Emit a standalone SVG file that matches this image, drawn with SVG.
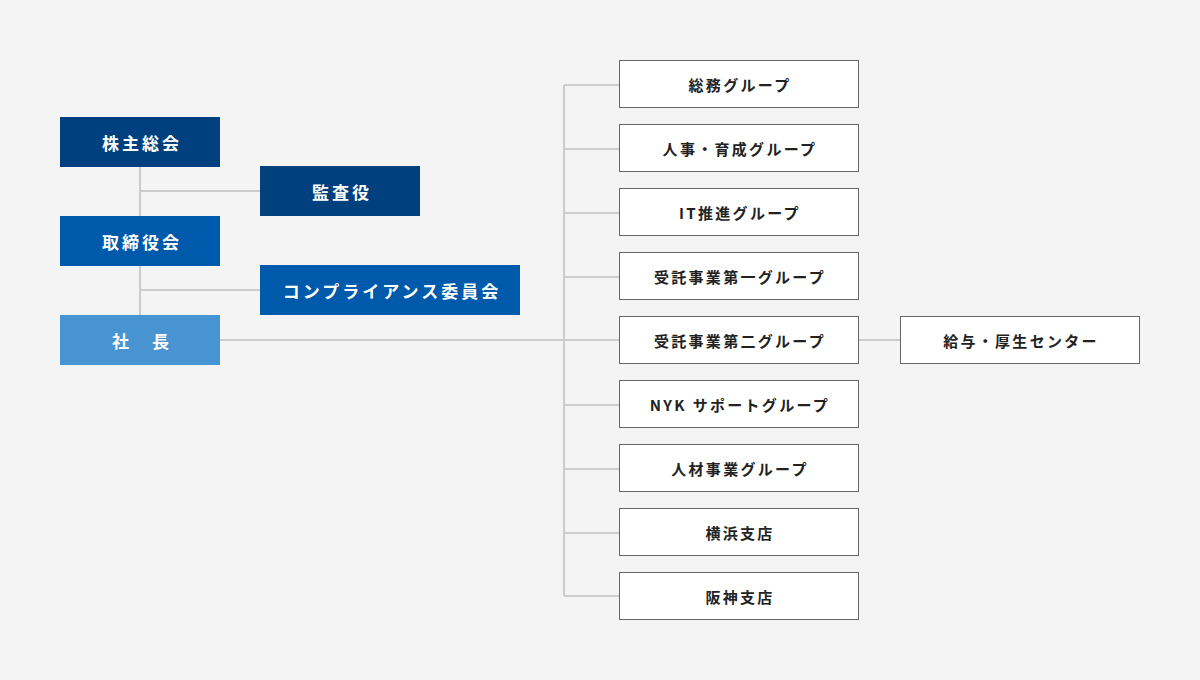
<svg xmlns="http://www.w3.org/2000/svg" width="1200" height="680" viewBox="0 0 1200 680">
<style>
.lt{font-family:"Noto Sans CJK JP","Noto Sans",sans-serif;font-weight:700;font-size:17px;fill:#fff;letter-spacing:3px;text-anchor:middle;dominant-baseline:central}
.rt{font-family:"Noto Sans CJK JP","Noto Sans",sans-serif;font-weight:700;font-size:15px;fill:#222;letter-spacing:2.3px;text-anchor:middle;dominant-baseline:central}
.rb{fill:#fff;stroke:#666;stroke-width:1}
.ln{stroke:#ccc;stroke-width:2;fill:none}
</style>
<rect width="1200" height="680" fill="#f4f4f4"/>
<g id="connectors">
<path class="ln" d="M140 167V315M140 191H260M140 290H260M220 340H619M564 85V596M564 85H619M564 149H619M564 213H619M564 277H619M564 405H619M564 469H619M564 533H619M564 596H619M859 340H900"/>
</g>
<g id="n-kabunushi"><rect x="60" y="117" width="160" height="50" fill="#00407e"/><text class="lt" x="142" y="142">株主総会</text></g>
<g id="n-kansa"><rect x="260" y="166" width="160" height="50" fill="#00407e"/><text class="lt" x="342" y="191">監査役</text></g>
<g id="n-torishimari"><rect x="60" y="216" width="160" height="50" fill="#005aab"/><text class="lt" x="142" y="241">取締役会</text></g>
<g id="n-compliance"><rect x="260" y="265" width="260" height="50" fill="#005aab"/><text class="lt" x="392" y="290">コンプライアンス委員会</text></g>
<g id="n-shacho"><rect x="60" y="315" width="160" height="50" fill="#4893d2"/><text class="lt" x="142" y="340">社　長</text></g>
<g id="n-g1"><rect class="rb" x="619.5" y="60.5" width="239" height="47"/><text class="rt" x="740" y="84">総務グループ</text></g>
<g id="n-g2"><rect class="rb" x="619.5" y="124.5" width="239" height="47"/><text class="rt" x="740" y="148">人事・育成グループ</text></g>
<g id="n-g3"><rect class="rb" x="619.5" y="188.5" width="239" height="47"/><text class="rt" x="740" y="212">IT推進グループ</text></g>
<g id="n-g4"><rect class="rb" x="619.5" y="252.5" width="239" height="47"/><text class="rt" x="740" y="276">受託事業第一グループ</text></g>
<g id="n-g5"><rect class="rb" x="619.5" y="316.5" width="239" height="47"/><text class="rt" x="740" y="340">受託事業第二グループ</text></g>
<g id="n-g6"><rect class="rb" x="619.5" y="380.5" width="239" height="47"/><text class="rt" x="740" y="404">NYK サポートグループ</text></g>
<g id="n-g7"><rect class="rb" x="619.5" y="444.5" width="239" height="47"/><text class="rt" x="740" y="468">人材事業グループ</text></g>
<g id="n-g8"><rect class="rb" x="619.5" y="508.5" width="239" height="47"/><text class="rt" x="740" y="532">横浜支店</text></g>
<g id="n-g9"><rect class="rb" x="619.5" y="572.5" width="239" height="47"/><text class="rt" x="740" y="596">阪神支店</text></g>
<g id="n-kyuyo"><rect class="rb" x="900.5" y="316.5" width="239" height="47"/><text class="rt" x="1021" y="340">給与・厚生センター</text></g>
</svg>
